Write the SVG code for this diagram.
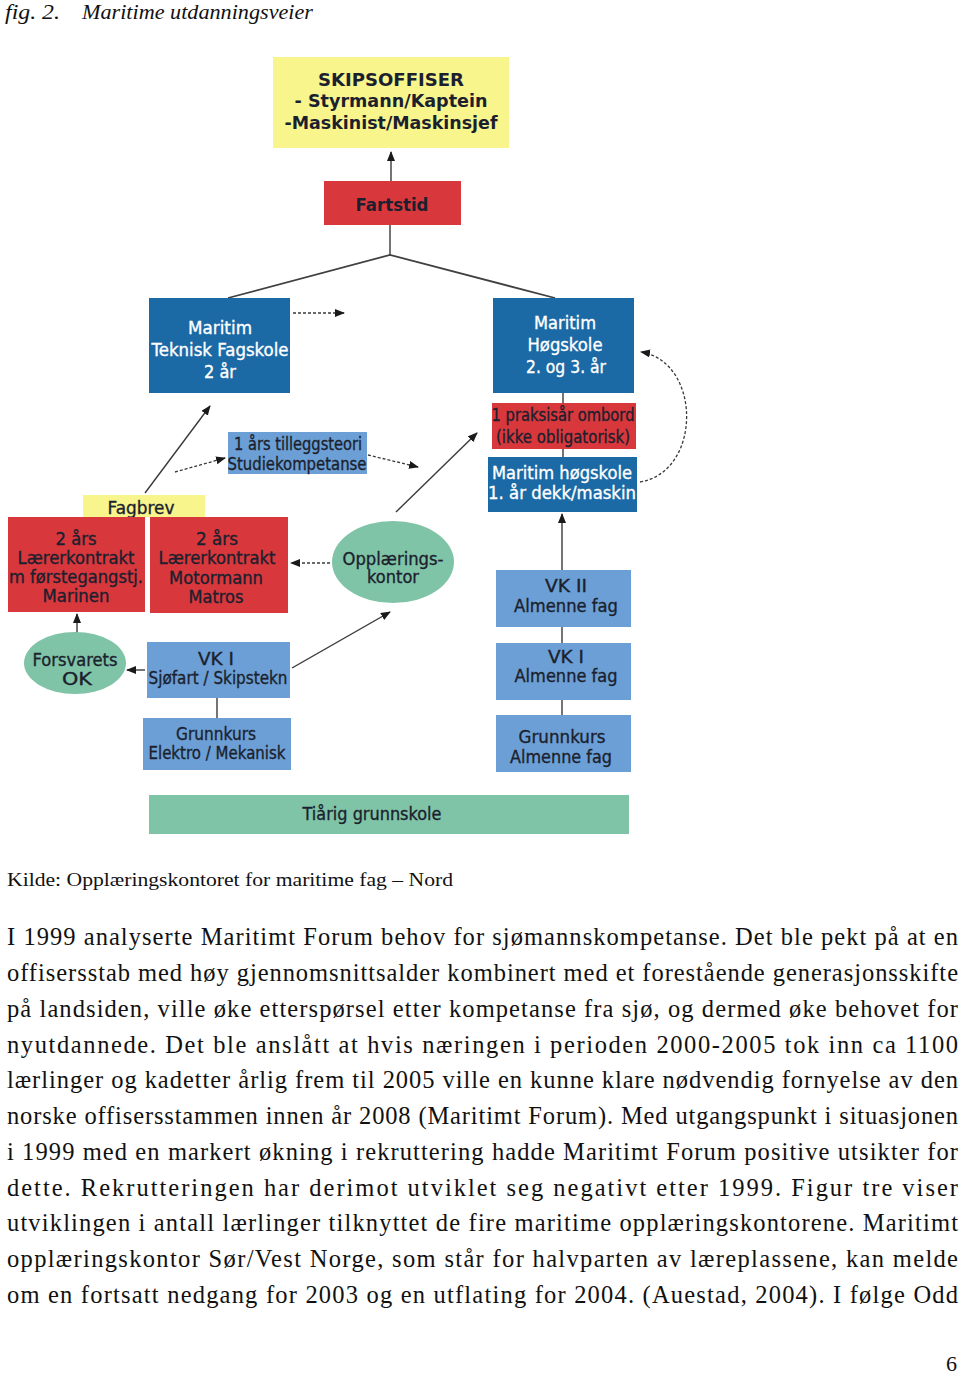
<svg xmlns="http://www.w3.org/2000/svg" width="960" height="1374" viewBox="0 0 960 1374">
<style>
.bg{fill:#ffffff}
.yel{fill:#f8f58c}
.red{fill:#d8383c}
.dblue{fill:#1b6aa6}
.lblue{fill:#6c9fd5}
.green{fill:#80c4a8}
.t{font-family:"DejaVu Sans",Verdana,sans-serif;font-size:17px;fill:#1b1f2e;stroke:#1b1f2e;stroke-width:0.35;text-anchor:middle}
.tb{font-family:"DejaVu Sans",Verdana,sans-serif;font-size:18px;font-weight:bold;fill:#1b1f2e;text-anchor:middle}
.tw{font-family:"DejaVu Sans",Verdana,sans-serif;font-size:17px;fill:#ffffff;stroke:#ffffff;stroke-width:0.35;text-anchor:middle}
.ln{stroke:#3a3a3a;stroke-width:1.4;fill:none}
.br{stroke:#404040;stroke-width:1.8;fill:none}
.dot{stroke:#3a3a3a;stroke-width:1.3;fill:none;stroke-dasharray:3 2}
.serif{font-family:"Liberation Serif","Times New Roman",serif;fill:#111}
</style>
<defs>
<marker id="ah" viewBox="0 0 10 8" refX="9" refY="4" markerWidth="10" markerHeight="8" markerUnits="userSpaceOnUse" orient="auto">
<path d="M0,0 L10,4 L0,8 Z" fill="#1a1a1a"/>
</marker>
</defs>
<rect class="bg" x="0" y="0" width="960" height="1374"/>

<text class="serif" x="5" y="19" font-size="22" font-style="italic" textLength="55" lengthAdjust="spacingAndGlyphs">fig. 2.</text>
<text class="serif" x="82" y="19" font-size="22" font-style="italic" textLength="231" lengthAdjust="spacingAndGlyphs">Maritime utdanningsveier</text>

<g id="connectors">
<line class="ln" x1="391" y1="181" x2="391" y2="152" marker-end="url(#ah)"/>
<line class="ln" x1="390" y1="225" x2="390" y2="255"/>
<polyline class="br" points="228,298 390,255 555,298"/>
<line class="dot" x1="293" y1="313" x2="344" y2="313" marker-end="url(#ah)"/>
<line class="ln" x1="563" y1="393" x2="563" y2="403"/>
<line class="ln" x1="563" y1="449" x2="563" y2="457"/>
<path class="dot" d="M640,482 C702,472 702,362 641,352" marker-end="url(#ah)"/>
<line class="ln" x1="562" y1="570" x2="562" y2="514" marker-end="url(#ah)"/>
<line class="ln" x1="562" y1="627" x2="562" y2="643"/>
<line class="ln" x1="562" y1="700" x2="562" y2="715"/>
<line class="ln" x1="145" y1="493" x2="210" y2="406" marker-end="url(#ah)"/>
<line class="dot" x1="175" y1="472" x2="225" y2="458" marker-end="url(#ah)"/>
<line class="dot" x1="368" y1="455" x2="418" y2="467" marker-end="url(#ah)"/>
<line class="ln" x1="396" y1="512" x2="477" y2="433" marker-end="url(#ah)"/>
<line class="dot" x1="330" y1="563" x2="291" y2="563" marker-end="url(#ah)"/>
<line class="ln" x1="292" y1="668" x2="390" y2="612" marker-end="url(#ah)"/>
<line class="ln" x1="77" y1="633" x2="77" y2="614" marker-end="url(#ah)"/>
<line class="ln" x1="145" y1="670" x2="127" y2="670" marker-end="url(#ah)"/>
<line class="ln" x1="217" y1="698" x2="217" y2="718"/>
</g>

<g id="skipsoffiser">
<rect class="yel" x="273" y="57" width="236" height="91"/>
<text class="tb" x="391" y="86" textLength="146" lengthAdjust="spacingAndGlyphs">SKIPSOFFISER</text>
<text class="tb" x="391" y="107" textLength="193" lengthAdjust="spacingAndGlyphs">- Styrmann/Kaptein</text>
<text class="tb" x="391" y="129" textLength="213" lengthAdjust="spacingAndGlyphs">-Maskinist/Maskinsjef</text>
</g>
<g id="fartstid">
<rect class="red" x="324" y="181" width="137" height="44"/>
<text class="tb" x="392" y="211" textLength="73" lengthAdjust="spacingAndGlyphs">Fartstid</text>
</g>
<g id="teknisk-fagskole">
<rect class="dblue" x="149" y="298" width="141" height="95"/>
<text class="tw" x="220" y="334" textLength="64" lengthAdjust="spacingAndGlyphs">Maritim</text>
<text class="tw" x="220" y="356" textLength="137" lengthAdjust="spacingAndGlyphs">Teknisk Fagskole</text>
<text class="tw" x="220" y="378" textLength="32" lengthAdjust="spacingAndGlyphs">2 år</text>
</g>
<g id="hogskole">
<rect class="dblue" x="493" y="298" width="141" height="95"/>
<text class="tw" x="565" y="329" textLength="62" lengthAdjust="spacingAndGlyphs">Maritim</text>
<text class="tw" x="565" y="351" textLength="75" lengthAdjust="spacingAndGlyphs">Høgskole</text>
<text class="tw" x="566" y="373" textLength="80" lengthAdjust="spacingAndGlyphs">2. og 3. år</text>
</g>
<g id="praksisar">
<rect class="red" x="492" y="403" width="144" height="46"/>
<text class="t" x="563" y="421" textLength="143" lengthAdjust="spacingAndGlyphs">1 praksisår ombord</text>
<text class="t" x="563" y="443" textLength="134" lengthAdjust="spacingAndGlyphs">(ikke obligatorisk)</text>
</g>
<g id="hogskole-1ar">
<rect class="dblue" x="488" y="457" width="149" height="55"/>
<text class="tw" x="562" y="479" textLength="140" lengthAdjust="spacingAndGlyphs">Maritim høgskole</text>
<text class="tw" x="562" y="499" textLength="148" lengthAdjust="spacingAndGlyphs">1. år dekk/maskin</text>
</g>
<g id="vk2-almenne">
<rect class="lblue" x="496" y="570" width="135" height="57"/>
<text class="t" x="566" y="592" textLength="42" lengthAdjust="spacingAndGlyphs">VK II</text>
<text class="t" x="566" y="612" textLength="104" lengthAdjust="spacingAndGlyphs">Almenne fag</text>
</g>
<g id="vk1-almenne">
<rect class="lblue" x="496" y="643" width="135" height="57"/>
<text class="t" x="566" y="663" textLength="36" lengthAdjust="spacingAndGlyphs">VK I</text>
<text class="t" x="566" y="682" textLength="103" lengthAdjust="spacingAndGlyphs">Almenne fag</text>
</g>
<g id="grunnkurs-almenne">
<rect class="lblue" x="496" y="715" width="135" height="57"/>
<text class="t" x="562" y="743" textLength="87" lengthAdjust="spacingAndGlyphs">Grunnkurs</text>
<text class="t" x="561" y="763" textLength="102" lengthAdjust="spacingAndGlyphs">Almenne fag</text>
</g>
<g id="grunnskole">
<rect class="green" x="149" y="795" width="480" height="39"/>
<text class="t" x="372" y="820" textLength="139" lengthAdjust="spacingAndGlyphs">Tiårig grunnskole</text>
</g>
<g id="fagbrev">
<rect class="yel" x="83" y="495" width="122" height="22"/>
<text class="t" x="141" y="514" textLength="67" lengthAdjust="spacingAndGlyphs">Fagbrev</text>
</g>
<g id="laerekontrakt-marinen">
<rect class="red" x="8" y="517" width="137" height="95"/>
<text class="t" x="76" y="545" textLength="41" lengthAdjust="spacingAndGlyphs">2 års</text>
<text class="t" x="76" y="564" textLength="117" lengthAdjust="spacingAndGlyphs">Lærerkontrakt</text>
<text class="t" x="76" y="583" textLength="134" lengthAdjust="spacingAndGlyphs">m førstegangstj.</text>
<text class="t" x="76" y="602" textLength="67" lengthAdjust="spacingAndGlyphs">Marinen</text>
</g>
<g id="laerekontrakt-motormann">
<rect class="red" x="150" y="517" width="138" height="96"/>
<text class="t" x="217" y="545" textLength="42" lengthAdjust="spacingAndGlyphs">2 års</text>
<text class="t" x="217" y="564" textLength="117" lengthAdjust="spacingAndGlyphs">Lærerkontrakt</text>
<text class="t" x="216" y="584" textLength="94" lengthAdjust="spacingAndGlyphs">Motormann</text>
<text class="t" x="216" y="603" textLength="55" lengthAdjust="spacingAndGlyphs">Matros</text>
</g>
<g id="tilleggsteori">
<rect class="lblue" x="228" y="432" width="139" height="42"/>
<text class="t" x="298" y="450" textLength="128" lengthAdjust="spacingAndGlyphs">1 års tilleggsteori</text>
<text class="t" x="297" y="470" textLength="139" lengthAdjust="spacingAndGlyphs">Studiekompetanse</text>
</g>
<g id="opplaeringskontor">
<ellipse class="green" cx="393" cy="562" rx="61" ry="41"/>
<text class="t" x="393" y="565" textLength="101" lengthAdjust="spacingAndGlyphs">Opplærings-</text>
<text class="t" x="393" y="583" textLength="52" lengthAdjust="spacingAndGlyphs">kontor</text>
</g>
<g id="forsvarets-ok">
<ellipse class="green" cx="75" cy="663" rx="51" ry="31"/>
<text class="t" x="75" y="666" textLength="85" lengthAdjust="spacingAndGlyphs">Forsvarets</text>
<text class="t" x="77" y="685" textLength="30" lengthAdjust="spacingAndGlyphs">OK</text>
</g>
<g id="vk1-sjofart">
<rect class="lblue" x="147" y="642" width="143" height="56"/>
<text class="t" x="216" y="665" textLength="36" lengthAdjust="spacingAndGlyphs">VK I</text>
<text class="t" x="218" y="684" textLength="139" lengthAdjust="spacingAndGlyphs">Sjøfart / Skipstekn</text>
</g>
<g id="grunnkurs-elektro">
<rect class="lblue" x="143" y="718" width="148" height="52"/>
<text class="t" x="216" y="740" textLength="80" lengthAdjust="spacingAndGlyphs">Grunnkurs</text>
<text class="t" x="217" y="759" textLength="137" lengthAdjust="spacingAndGlyphs">Elektro / Mekanisk</text>
</g>

<text class="serif" x="7" y="886" font-size="19" textLength="446" lengthAdjust="spacingAndGlyphs">Kilde: Opplæringskontoret for maritime fag – Nord</text>

<g>
<text class="serif" font-size="24.5" x="7" y="945" textLength="951" lengthAdjust="spacing">I 1999 analyserte Maritimt Forum behov for sjømannskompetanse. Det ble pekt på at en</text>
<text class="serif" font-size="24.5" x="7" y="981" textLength="951" lengthAdjust="spacing">offisersstab med høy gjennomsnittsalder kombinert med et forestående generasjonsskifte</text>
<text class="serif" font-size="24.5" x="7" y="1017" textLength="951" lengthAdjust="spacing">på landsiden, ville øke etterspørsel etter kompetanse fra sjø, og dermed øke behovet for</text>
<text class="serif" font-size="24.5" x="7" y="1053" textLength="951" lengthAdjust="spacing">nyutdannede. Det ble anslått at hvis næringen i perioden 2000-2005 tok inn ca 1100</text>
<text class="serif" font-size="24.5" x="7" y="1088" textLength="951" lengthAdjust="spacing">lærlinger og kadetter årlig frem til 2005 ville en kunne klare nødvendig fornyelse av den</text>
<text class="serif" font-size="24.5" x="7" y="1124" textLength="951" lengthAdjust="spacing">norske offisersstammen innen år 2008 (Maritimt Forum). Med utgangspunkt i situasjonen</text>
<text class="serif" font-size="24.5" x="7" y="1160" textLength="951" lengthAdjust="spacing">i 1999 med en markert økning i rekruttering hadde Maritimt Forum positive utsikter for</text>
<text class="serif" font-size="24.5" x="7" y="1196" textLength="951" lengthAdjust="spacing">dette. Rekrutteringen har derimot utviklet seg negativt etter 1999. Figur tre viser</text>
<text class="serif" font-size="24.5" x="7" y="1231" textLength="951" lengthAdjust="spacing">utviklingen i antall lærlinger tilknyttet de fire maritime opplæringskontorene. Maritimt</text>
<text class="serif" font-size="24.5" x="7" y="1267" textLength="951" lengthAdjust="spacing">opplæringskontor Sør/Vest Norge, som står for halvparten av læreplassene, kan melde</text>
<text class="serif" font-size="24.5" x="7" y="1303" textLength="951" lengthAdjust="spacing">om en fortsatt nedgang for 2003 og en utflating for 2004. (Auestad, 2004). I følge Odd</text>
</g>
<text class="serif" x="946" y="1371" font-size="22">6</text>
</svg>
